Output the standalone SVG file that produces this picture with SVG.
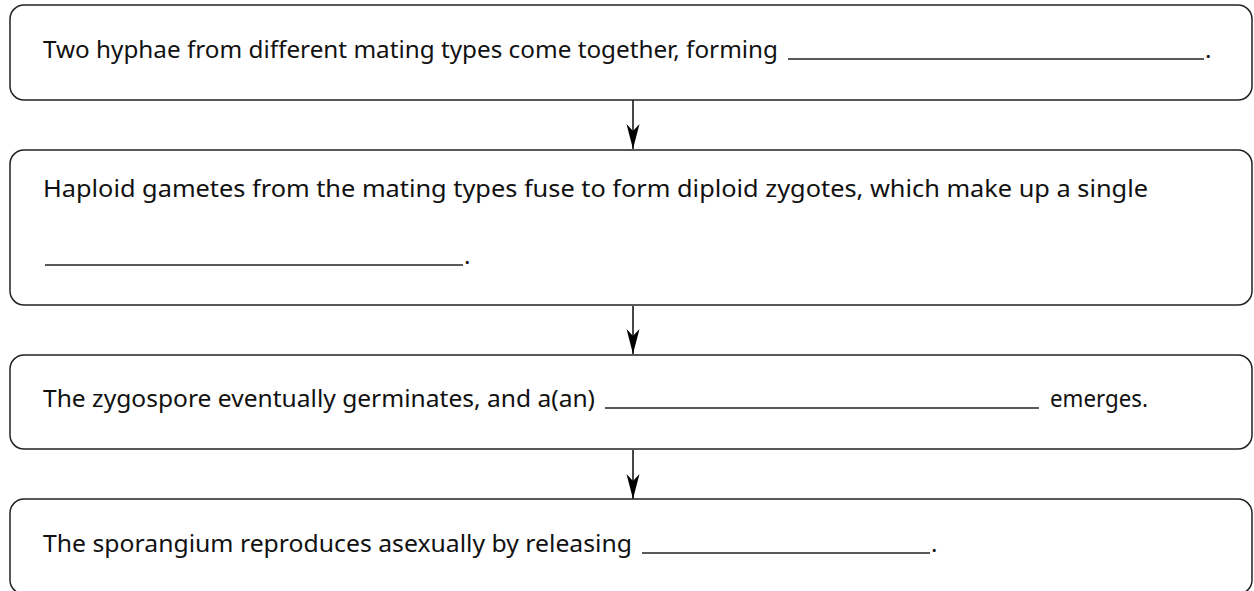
<svg xmlns="http://www.w3.org/2000/svg" width="1254" height="591" viewBox="0 0 1254 591">
<style>
.box{fill:#fff;stroke:#222;stroke-width:1.5}
.t{font-family:"Noto Sans","Open Sans",sans-serif;font-size:24px;fill:#111}
.blank{stroke:#222;stroke-width:1.5}
.conn{stroke:#333;stroke-width:1.8;fill:none}
</style>
<defs>
<marker id="ah" markerUnits="userSpaceOnUse" viewBox="-26 -7 28 14" refX="0" refY="0" markerWidth="28" markerHeight="14" orient="auto">
<path d="M0,0 L-25,-6.5 L-18,0 L-25,6.5 Z" fill="#000"/>
</marker>
</defs>
<rect x="0" y="0" width="1254" height="591" fill="#fff"/>
<g id="connectors">
<line class="conn" x1="633" y1="100" x2="633" y2="149" marker-end="url(#ah)"/>
<line class="conn" x1="633" y1="306" x2="633" y2="354" marker-end="url(#ah)"/>
<line class="conn" x1="633" y1="450" x2="633" y2="499" marker-end="url(#ah)"/>
</g>
<g id="node1">
<rect class="box" x="10" y="5" width="1242" height="95" rx="14"/>
<text class="t" x="43" y="58" textLength="735" lengthAdjust="spacingAndGlyphs">Two hyphae from different mating types come together, forming</text>
<line class="blank" x1="788" y1="59" x2="1204" y2="59"/>
<text class="t" x="1205" y="58">.</text>
</g>
<g id="node2">
<rect class="box" x="10" y="150" width="1242" height="155" rx="14"/>
<text class="t" x="43" y="197" textLength="1105" lengthAdjust="spacingAndGlyphs">Haploid gametes from the mating types fuse to form diploid zygotes, which make up a single</text>
<line class="blank" x1="45" y1="265" x2="463" y2="265"/>
<text class="t" x="464" y="264">.</text>
</g>
<g id="node3">
<rect class="box" x="10" y="355" width="1242" height="94" rx="14"/>
<text class="t" x="43" y="407" textLength="552" lengthAdjust="spacingAndGlyphs">The zygospore eventually germinates, and a(an)</text>
<line class="blank" x1="605" y1="408" x2="1039" y2="408"/>
<text class="t" x="1050" y="407" textLength="98" lengthAdjust="spacingAndGlyphs">emerges.</text>
</g>
<g id="node4">
<rect class="box" x="10" y="499" width="1242" height="95" rx="14"/>
<text class="t" x="43" y="552" textLength="589" lengthAdjust="spacingAndGlyphs">The sporangium reproduces asexually by releasing</text>
<line class="blank" x1="642" y1="553" x2="930" y2="553"/>
<text class="t" x="931" y="552">.</text>
</g>
</svg>
